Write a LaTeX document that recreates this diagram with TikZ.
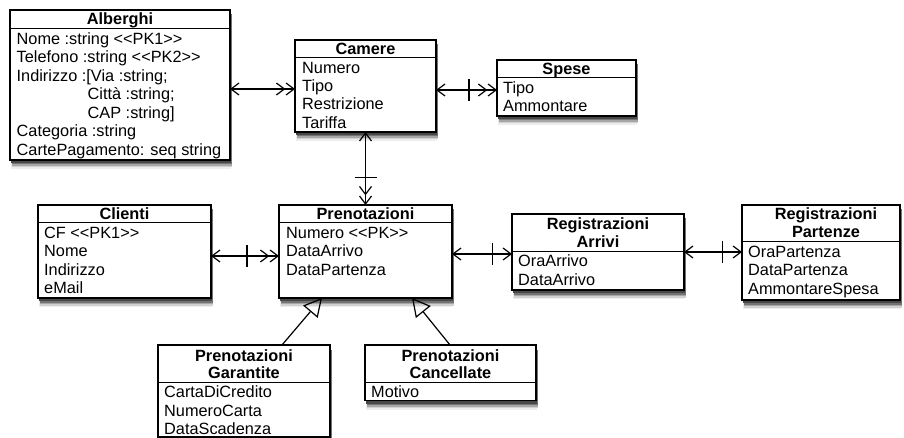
\documentclass[tikz,border=0pt]{standalone}
\usepackage{fontspec}
\setmainfont{Liberation Sans}
\usetikzlibrary{arrows.meta}
\tikzset{
  box/.style={draw=black, line width=1.3pt, fill=white, inner sep=0pt, outer sep=0pt},
  divline/.style={line width=1pt},
  hdr/.style={font=\fontsize{16.3}{18}\selectfont\bfseries, anchor=base, inner sep=0pt},
  attr/.style={font=\fontsize{16.3}{18}\selectfont, anchor=base west, inner sep=0pt},
  conn/.style={line width=1.2pt},
  tickline/.style={line width=1.2pt},
  barbone/.tip={Straight Barb[length=8pt,width=12pt]},
  barbtwo/.tip={Straight Barb[length=8pt,width=12pt] Straight Barb[length=8pt,width=12pt]},
  genarrow/.style={-{Triangle[open,length=18pt,width=19pt]}},
}
% one shadow layer: #1 colour, #2 dx, #3 dy, #4-#7 box corners
\newcommand\shadowlayer[7]{%
  \fill[#1] ({#4+#2},{-(#5)-#3}) rectangle ({#6+#2},{-(#7)-#3});}
% #1 name, #2 x1, #3 y1, #4 x2, #5 y2, #6 divider y (pixel coords, y downward)
\newcommand\umlbox[6]{%
  \shadowlayer{black!7}{1}{9}{#2}{#3}{#4}{#5}
  \shadowlayer{black!18}{2}{7.5}{#2}{#3}{#4}{#5}
  \shadowlayer{black!35}{2}{6}{#2}{#3}{#4}{#5}
  \shadowlayer{black!55}{1.5}{4.5}{#2}{#3}{#4}{#5}
  \shadowlayer{black!72}{1}{3}{#2}{#3}{#4}{#5}
  \node[box, anchor=north west, minimum width={#4-#2}, minimum height={#5-#3}] (#1) at (#2,-#3) {};
  \draw[divline] (#1.west |- 0,-#6) -- (#1.east |- 0,-#6);
}
% #1 name, #2 x, #3 baseline y, #4 text
\newcommand\hdrline[4]{\node[hdr] (#1) at (#2,-#3) {#4};}
\newcommand\attline[4]{\node[attr] (#1) at (#2,-#3) {#4};}
\begin{document}
\begin{tikzpicture}[x=1pt,y=1pt]
\useasboundingbox (0,0) rectangle (904,-438);

% Alberghi
\umlbox{alb}{10}{10}{230}{160}{29}
\hdrline{albh}{120}{25}{Alberghi}
\attline{alb1}{16.5}{44.5}{Nome :string <{}<PK1>{}>}
\attline{alb2}{16.5}{63}{Telefono :string <{}<PK2>{}>}
\attline{alb3}{16.5}{81.5}{Indirizzo :[Via :string;}
\attline{alb4}{87.5}{100}{Città :string;}
\attline{alb5}{87.5}{118.5}{CAP :string]}
\attline{alb6}{16.5}{137}{Categoria :string}
\attline{alb7}{16.5}{155.5}{CartePagamento: seq string}

% Camere
\umlbox{cam}{295}{40}{436}{132}{58}
\hdrline{camh}{365.5}{54.5}{Camere}
\attline{cam1}{302}{73.3}{Numero}
\attline{cam2}{302}{91.7}{Tipo}
\attline{cam3}{302}{110}{Restrizione}
\attline{cam4}{302}{128.3}{Tariffa}

% Spese
\umlbox{spe}{497}{60}{636}{116}{78}
\hdrline{speh}{566.5}{74.5}{Spese}
\attline{spe1}{503}{93.3}{Tipo}
\attline{spe2}{503}{111.7}{Ammontare}

% Clienti
\umlbox{cli}{38}{205}{211}{298}{223}
\hdrline{clih}{124.5}{219.5}{Clienti}
\attline{cli1}{44}{238.3}{CF <{}<PK1>{}>}
\attline{cli2}{44}{256.7}{Nome}
\attline{cli3}{44}{275}{Indirizzo}
\attline{cli4}{44}{293.3}{eMail}

% Prenotazioni
\umlbox{pre}{279}{205}{452}{298}{223}
\hdrline{preh}{365.5}{219.5}{Prenotazioni}
\attline{pre1}{286}{238.3}{Numero <{}<PK>{}>}
\attline{pre2}{286}{256.7}{DataArrivo}
\attline{pre3}{286}{275}{DataPartenza}

% Registrazioni Arrivi
\umlbox{arr}{512}{214}{684}{290}{252}
\hdrline{arrh1}{598}{230}{Registrazioni}
\hdrline{arrh2}{598}{247.5}{Arrivi}
\attline{arr1}{518}{266.7}{OraArrivo}
\attline{arr2}{518}{285}{DataArrivo}

% Registrazioni Partenze
\umlbox{par}{742}{205}{900}{300}{242}
\hdrline{parh1}{826}{220}{Registrazioni}
\hdrline{parh2}{826}{237.5}{Partenze}
\attline{par1}{748}{257.5}{OraPartenza}
\attline{par2}{748}{276}{DataPartenza}
\attline{par3}{748}{294.5}{AmmontareSpesa}

% Prenotazioni Garantite
\umlbox{gar}{158}{345}{330}{437}{382.7}
\hdrline{garh1}{244}{361}{Prenotazioni}
\hdrline{garh2}{244}{378.3}{Garantite}
\attline{gar1}{164}{397.8}{CartaDiCredito}
\attline{gar2}{164}{416.2}{NumeroCarta}
\attline{gar3}{164}{434.6}{DataScadenza}

% Prenotazioni Cancellate
\umlbox{can}{365}{345}{536}{400.7}{382.7}
\hdrline{canh1}{450.5}{361}{Prenotazioni}
\hdrline{canh2}{450.5}{378.3}{Cancellate}
\attline{can1}{371}{397.3}{Motivo}

% Associations
\draw[conn, barbone-barbtwo] (alb.east |- 0,-89) -- (cam.west |- 0,-89);

\draw[conn, barbone-barbtwo] (cam.east |- 0,-90) -- coordinate[pos=0.54] (t1) (spe.west |- 0,-90);
\draw[tickline] ([yshift=11pt]t1) -- ([yshift=-11pt]t1);

\draw[conn, barbone-barbtwo] (cam.south) -- coordinate[pos=0.62] (t2) (pre.north);
\draw[tickline] ([xshift=-11pt]t2) -- ([xshift=11pt]t2);

\draw[conn, barbone-barbtwo] (cli.east |- 0,-256) -- coordinate[pos=0.53] (t3) (pre.west |- 0,-256);
\draw[tickline] ([yshift=11pt]t3) -- ([yshift=-11pt]t3);

\draw[conn, barbone-barbone] (pre.east |- 0,-254) -- coordinate[pos=0.67] (t4) (arr.west |- 0,-254);
\draw[tickline] ([yshift=11pt]t4) -- ([yshift=-11pt]t4);

\draw[conn, barbone-barbone] (arr.east |- 0,-252) -- coordinate[pos=0.67] (t5) (par.west |- 0,-252);
\draw[tickline] ([yshift=11pt]t5) -- ([yshift=-11pt]t5);

% Generalizations
\draw[conn, genarrow] (gar.north -| 282,0) -- (pre.south -| 322,0);
\draw[conn, genarrow] (can.north -| 450,0) -- (pre.south -| 412,0);
\end{tikzpicture}
\end{document}
